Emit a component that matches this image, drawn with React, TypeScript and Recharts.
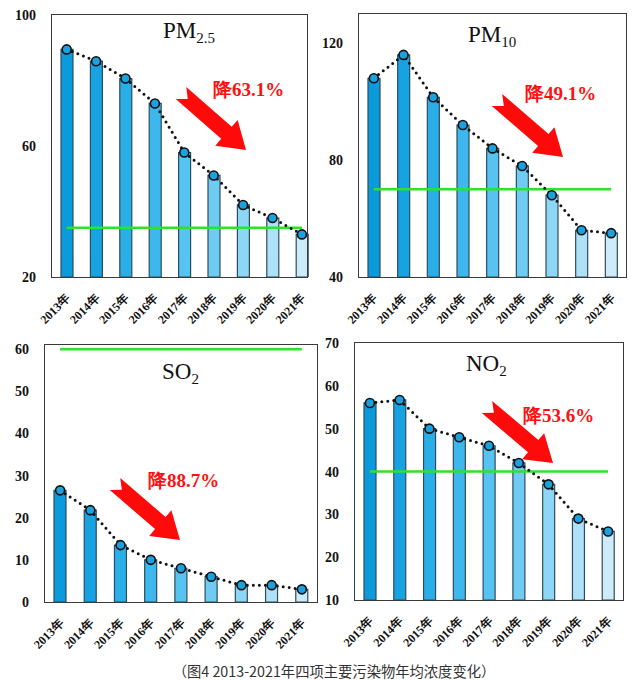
import React from 'react';
import { ComposedChart, Bar, Line, XAxis, YAxis, Cell } from 'recharts';

const years = ['2013年', '2014年', '2015年', '2016年', '2017年', '2018年', '2019年', '2020年', '2021年'];

const pm25 = [89.5, 85.9, 80.6, 73, 58, 51, 42, 38, 33];
const pm10 = [108, 116, 101.5, 92, 84, 78, 68, 56, 55];
const so2 = [26.5, 21.8, 13.5, 10, 8, 6, 4, 4, 3];
const no2 = [56, 56.7, 50, 48, 46, 42, 37, 29, 26];

// 国家二级标准
const pm25Std = 35;
const pm10Std = 70;
const so2Std = 60;
const no2Std = 40;

const pm25Ticks = [20, 60, 100];
const pm10Ticks = [40, 80, 120];
const so2Ticks = [0, 10, 20, 30, 40, 50, 60];
const no2Ticks = [10, 20, 30, 40, 50, 60, 70];

const barColors = ['#0b9bdc', '#17a2e2', '#2aaee8', '#3db7ec', '#56c3f0', '#6fcbf2', '#8ed6f5', '#aee1f7', '#cdebf9'];

const serif = '"Liberation Serif", "Times New Roman", serif';

const YTick = (props: any) => {
    const { x, y, payload } = props;
    return (
        <text x={x} y={y} dy={5} textAnchor="end" fontFamily={serif} fontWeight="bold" fontSize={14} fill="#111">
            {payload.value}
        </text>
    );
};

const XTick = (props: any) => {
    const { x, y, payload } = props;
    return (
        <g transform={`translate(${x + 4},${y + 14})`}>
            <text textAnchor="end" transform="rotate(-45)" fontFamily={serif} fontWeight="bold" fontSize={12} fill="#111">
                {payload.value}
            </text>
        </g>
    );
};

const arrowPoints = (tail: number[], tip: number[]) => {
    const dx = tip[0] - tail[0];
    const dy = tip[1] - tail[1];
    const len = Math.sqrt(dx * dx + dy * dy);
    const ux = dx / len, uy = dy / len;
    const nx = -uy, ny = ux;
    const w = 8, hw = 17, hl = 26, nd = 9;
    const sx = tip[0] - ux * hl, sy = tip[1] - uy * hl;
    const pts = [
        [tail[0] + nx * w, tail[1] + ny * w],
        [sx + nx * w, sy + ny * w],
        [sx + nx * hw, sy + ny * hw],
        tip,
        [sx - nx * hw, sy - ny * hw],
        [sx - nx * w, sy - ny * w],
        [tail[0] - nx * w, tail[1] - ny * w],
        [tail[0] + ux * nd, tail[1] + uy * nd],
    ];
    return pts.map(p => `${p[0]},${p[1]}`).join(' ');
};

type PanelProps = {
    left: number; top: number; plotW: number; plotH: number; boxW: number;
    values: number[]; std: number; domain: number[]; ticks: number[];
    title: string; sub: string; titlePos: number[];
    decline: string; declinePos: number[];
    tail: number[]; tip: number[];
};

const Panel = (p: PanelProps) => {
    const data = years.map((year, i) => ({ year, value: p.values[i], std: p.std }));
    return (
        <>
            <div style={{ position: 'absolute', left: p.left - 50, top: p.top - 10 }}>
                <ComposedChart width={50 + p.plotW + 10} height={10 + p.plotH + 60} data={data}
                    margin={{ top: 10, right: 10, bottom: 0, left: 10 }}>
                    <XAxis dataKey="year" height={60} interval={0} tickLine={false} axisLine={false} tick={<XTick />} />
                    <YAxis width={40} domain={p.domain} ticks={p.ticks} allowDataOverflow tickLine={false} axisLine={false}
                        tickSize={0} tickMargin={16} tick={<YTick />} />
                    <Bar dataKey="value" barSize={12} stroke="#2d4d5d" strokeWidth={1.2} isAnimationActive={false}>
                        {data.map((d, i) => <Cell key={d.year} fill={barColors[i]} />)}
                    </Bar>
                    <Line dataKey="std" stroke="#2fe02f" strokeWidth={2.5} dot={false} isAnimationActive={false} />
                    <Line dataKey="value" type="linear" stroke="#111" strokeWidth={3} strokeDasharray="0 6" strokeLinecap="round"
                        dot={{ r: 4.5, fill: '#1ba1de', stroke: '#111', strokeWidth: 1.6, strokeDasharray: 'none' }}
                        isAnimationActive={false} />
                </ComposedChart>
            </div>
            <div style={{
                position: 'absolute', left: p.left - 1, top: p.top - 1, width: p.boxW, height: p.plotH,
                border: '1.5px solid #3a3a3a', pointerEvents: 'none'
            }} />
            <svg width={p.boxW} height={p.plotH} style={{ position: 'absolute', left: p.left, top: p.top, overflow: 'visible' }}>
                <text x={p.titlePos[0]} y={p.titlePos[1]} fontFamily={serif} fontSize={23} fill="#111">
                    {p.title}
                    <tspan dy={5} fontSize={15}>{p.sub}</tspan>
                </text>
                <polygon points={arrowPoints(p.tail, p.tip)} fill="#ff0a0a" />
                <text x={p.declinePos[0]} y={p.declinePos[1]} fontFamily={serif} fontWeight="bold" fontSize={19} fill="#ff1010">
                    {p.decline}
                </text>
            </svg>
        </>
    );
};

const App = () => {
    return (
        <div style={{ position: 'absolute', left: 0, top: 0, width: 639, height: 680, background: '#fff' }}>
            <Panel left={52} top={15} plotW={264.6} plotH={262} boxW={255}
                values={pm25} std={pm25Std} domain={[20, 100]} ticks={pm25Ticks}
                title="PM" sub="2.5" titlePos={[111, 23]}
                decline="降63.1%" declinePos={[161, 81]} tail={[129, 78]} tip={[194, 135]} />
            <Panel left={359} top={14} plotW={267} plotH={263} boxW={267}
                values={pm10} std={pm10Std} domain={[40, 130]} ticks={pm10Ticks}
                title="PM" sub="10" titlePos={[109, 28]}
                decline="降49.1%" declinePos={[166, 86]} tail={[138, 86]} tip={[204, 143]} />
            <Panel left={45} top={345} plotW={272} plotH={257} boxW={272}
                values={so2} std={so2Std} domain={[0, 61]} ticks={so2Ticks}
                title="SO" sub="2" titlePos={[117, 34]}
                decline="降88.7%" declinePos={[103, 142]} tail={[70, 139]} tip={[135, 195]} />
            <Panel left={355} top={343} plotW={268} plotH={257} boxW={268}
                values={no2} std={no2Std} domain={[10, 70]} ticks={no2Ticks}
                title="NO" sub="2" titlePos={[111, 28]}
                decline="降53.6%" declinePos={[168, 79]} tail={[132, 64]} tip={[198, 120]} />
            <div style={{
                position: 'absolute', left: 0, width: 668, top: 660, textAlign: 'center',
                fontFamily: '"Noto Sans CJK SC", sans-serif', fontSize: 14.3, color: '#333'
            }}>
                （图4 2013-2021年四项主要污染物年均浓度变化）
            </div>
        </div>
    );
};

export default App;
